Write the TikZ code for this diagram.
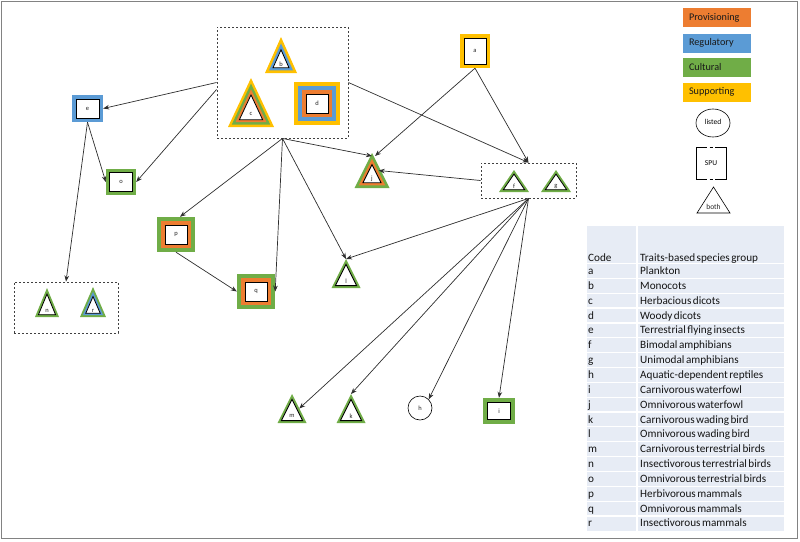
\documentclass[tikz,border=0pt]{standalone}
\usepackage{fontspec}
\setmainfont{Carlito}
\newfontfamily\tblfont{Carlito}[WordSpace=0.6]
\usetikzlibrary{arrows.meta,calc,shapes.geometric}
\definecolor{Prov}{RGB}{237,125,49}
\definecolor{Reg}{RGB}{91,155,213}
\definecolor{Cul}{RGB}{112,173,71}
\definecolor{Sup}{RGB}{255,192,0}
\definecolor{TblBg}{RGB}{231,236,245}
\definecolor{Edge}{RGB}{45,45,45}
\definecolor{Frame}{RGB}{130,130,130}
\tikzset{
  lbl/.style={inner sep=0pt, font=\fontsize{6.5}{7}\selectfont, text=black!85},
  grpbox/.style={draw=black!75, dash pattern=on 2.2pt off 1.8pt, line width=0.9pt, inner sep=0pt},
  arr/.style={-{Stealth[length=6pt,width=4.6pt]}, line width=0.7pt, draw=Edge},
  legbox/.style={minimum height=19pt, text width=56pt, inner xsep=6pt, inner ysep=0pt, align=left,
     font=\fontsize{10.2}{11}\selectfont, text=black!90},
  legshape/.style={draw=black, line width=0.6pt, inner sep=0pt, font=\fontsize{7.5}{8}\selectfont},
  tbltxt/.style={inner sep=0pt, font=\tblfont\fontsize{11.2}{12}\selectfont, text=black!92}
}
% triangle: name, base-centre x, base y, width, height, layer thickness, colour list, label
\newcommand\trinode[8]{%
  \pgfmathsetmacro\ta{#4/2}%
  \pgfmathsetmacro\tr{\ta*#5/(\ta+sqrt(\ta*\ta+#5*#5))}%
  \begin{scope}[shift={(#2,{#3-\tr})}]
    \foreach \col [count=\k] in {#7} {%
      \pgfmathsetmacro\s{(\tr-#6*(\k-1))/\tr}%
      \fill[\col] ({-\ta*\s},{\tr*\s}) -- ({\ta*\s},{\tr*\s}) -- (0,{(\tr-#5)*\s}) -- cycle;
      \xdef\nlay{\k}%
    }
    \pgfmathsetmacro\s{(\tr-#6*\nlay)/\tr}%
    \filldraw[fill=white, draw=black, line width=0.8pt, line join=miter]
      ({-\ta*\s},{\tr*\s}) -- ({\ta*\s},{\tr*\s}) -- (0,{(\tr-#5)*\s}) -- cycle;
    \node[lbl] (#1) at (0,2) {#8};
    \coordinate (#1-apex) at (0,{\tr-#5});
    \coordinate (#1-east) at ({\ta/2},{\tr-#5/2});
  \end{scope}
}
% square: name, centre x, centre y, width, height, layer thickness, colour list, label
\newcommand\sqnode[8]{%
  \foreach \col [count=\k] in {#7} {%
    \pgfmathsetmacro\dd{#6*(\k-1)}%
    \fill[\col] ({#2-#4/2+\dd},{#3-#5/2+\dd}) rectangle ({#2+#4/2-\dd},{#3+#5/2-\dd});
    \xdef\nlay{\k}%
  }
  \pgfmathsetmacro\dd{#6*\nlay}%
  \filldraw[fill=white, draw=black, line width=0.8pt] ({#2-#4/2+\dd},{#3-#5/2+\dd}) rectangle ({#2+#4/2-\dd},{#3+#5/2-\dd});
  \node[lbl, minimum width=#4pt, minimum height=#5pt] (#1) at (#2,#3) {#8};
}
\begin{document}
\begin{tikzpicture}[x=1pt,y=-1pt]
\useasboundingbox (0,0) rectangle (800,541);
\draw[Frame, line width=1.3pt] (1.5,1.5) rectangle (797.5,538.5);

% group boxes
\node[grpbox, minimum width=131pt, minimum height=111pt] (top) at (282.5,82.5) {};
\node[grpbox, minimum width=95pt, minimum height=35pt] (fg) at (528.5,180.5) {};
\node[grpbox, minimum width=104pt, minimum height=51pt] (nr) at (66,307.5) {};

% triangles
\trinode{b}{281}{73}{32}{36}{2.6}{Sup,Reg}{b}
\trinode{c}{251}{127}{46}{49}{2.4}{Sup,Cul,Prov}{c}
\trinode{j}{372}{188}{35}{35}{2.6}{Cul,Prov}{j}
\trinode{f}{514}{192}{30}{22}{2.3}{Cul}{f}
\trinode{g}{556}{192}{30}{22}{2.3}{Cul}{g}
\trinode{l}{346}{288}{29}{29}{2.4}{Cul}{l}
\trinode{m}{292}{423}{29}{29}{2.4}{Cul}{m}
\trinode{k}{351}{423}{29}{29}{2.4}{Cul}{k}
\trinode{n}{47}{317}{24}{29}{2.3}{Cul}{n}
\trinode{r}{93}{317}{26}{30}{1.9}{Cul,Reg}{r}

% squares
\sqnode{a}{475}{51}{30}{34}{4}{Sup}{a}
\sqnode{d}{317}{103.5}{46}{43}{4}{Sup,Reg,Prov}{d}
\sqnode{e}{87.5}{108.5}{31}{27}{4}{Reg}{e}
\sqnode{o}{121}{182}{30}{26}{3.8}{Cul}{o}
\sqnode{p}{176}{234.5}{38}{35}{4}{Cul,Prov}{p}
\sqnode{q}{256}{291.5}{38}{35}{4}{Cul,Prov}{q}
\sqnode{i}{499}{411}{32}{26}{4.5}{Cul}{i}

% circle
\node[lbl, draw=black, line width=0.6pt, circle, minimum size=24pt] (h) at (420,408) {h};

% connectors
\draw[arr] (top.west) -- (e.east);
\draw[arr] ([yshift=-7pt]top.west) -- (o.east);
\draw[arr] (e.south) -- (o.west);
\draw[arr] (e.south) -- (nr.north);
\draw[arr] (top.south) -- ([xshift=4pt]p.north);
\draw[arr] (top.south) -- (q.east);
\draw[arr] (top.south) -- (l-apex);
\draw[arr] (top.south) -- ([yshift=-3pt]j-apex);
\draw[arr] (top.east) -- (fg.north);
\draw[arr] (a.south) -- ([xshift=3pt,yshift=-3pt]j-apex);
\draw[arr] (a.south) -- (fg.north);
\draw[arr] (fg.west) -- ([xshift=-2pt]j-east);
\draw[arr] (p.south) -- (q.west);
\draw[arr] (fg.south) -- (l-apex);
\draw[arr] (fg.south) -- (m-east);
\draw[arr] (fg.south) -- (k-apex);
\draw[arr] (fg.south) -- (h.45);
\draw[arr] (fg.south) -- (i.north);

% legend
\node[legbox, fill=Prov] (lprov) at (717,17.5) {Provisioning};
\node[legbox, fill=Reg] (lreg) at (717,43) {Regulatory};
\node[legbox, fill=Cul] (lcul) at (717,67) {Cultural};
\node[legbox, fill=Sup] (lsup) at (717,92) {Supporting};
\node[legshape, ellipse, minimum width=34pt, minimum height=28pt] (llisted) at (713,123) {\raisebox{2pt}{listed}};
\node[legshape, minimum width=30pt, minimum height=32pt] (lspu) at (711,163) {SPU};
\draw[white, line width=1.5pt] (707,147) -- (715,147) (707,179) -- (715,179);
\draw[black, line width=0.6pt] (709.5,147) -- (712.5,147) (709.5,179) -- (712.5,179);
\draw[black, line width=0.6pt] (697,213) -- (730,213) -- (713.5,187) -- cycle;
\node[lbl, font=\fontsize{7.5}{8}\selectfont] (lboth) at (713.5,207) {both};

% table
\fill[TblBg] (587,226) rectangle (784,531);
\foreach \kk in {0,...,17} {
  \draw[white, line width=1.2pt] (587,{263.5+14.85*\kk}) -- (784,{263.5+14.85*\kk});
}
\draw[white, line width=1.5pt] (637,226) -- (637,531);
\node[tbltxt, anchor=base west] (hcode) at (588,261) {Code};
\node[tbltxt, anchor=base west] (hgroup) at (640,261) {Traits-based species group};
\foreach \cd/\ds [count=\ii] in {a/Plankton, b/Monocots, c/Herbacious dicots, d/Woody dicots,
  e/Terrestrial flying insects, f/Bimodal amphibians, g/Unimodal amphibians,
  h/Aquatic-dependent reptiles, i/Carnivorous waterfowl, j/Omnivorous waterfowl,
  k/Carnivorous wading bird, l/Omnivorous wading bird, m/Carnivorous terrestrial birds,
  n/Insectivorous terrestrial birds, o/Omnivorous terrestrial birds, p/Herbivorous mammals,
  q/Omnivorous mammals, r/Insectivorous mammals} {
  \node[tbltxt, anchor=base west] (tc\cd) at (588,{263.5+14.85*(\ii-1)+11}) {\cd};
  \node[tbltxt, anchor=base west] (td\cd) at (640,{263.5+14.85*(\ii-1)+11}) {\ds};
}
\end{tikzpicture}
\end{document}
